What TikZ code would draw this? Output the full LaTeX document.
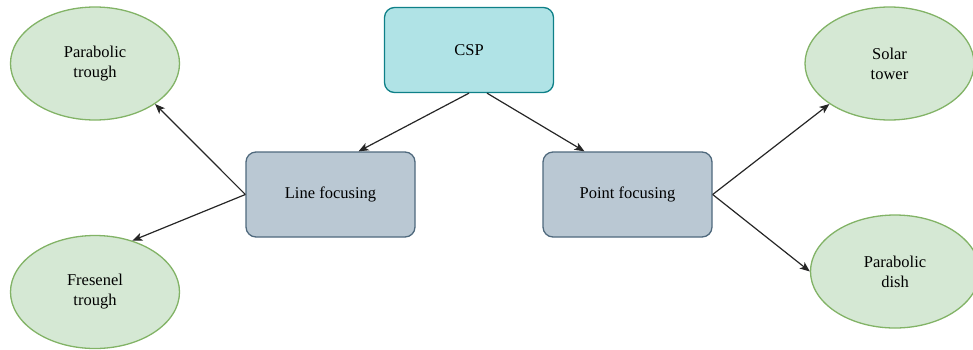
\documentclass[tikz,border=0pt]{standalone}
\usepackage{fontspec}
\setmainfont{Liberation Serif}
\usepackage{tikz}
\usetikzlibrary{arrows.meta,shapes.geometric}

\definecolor{cspfill}{HTML}{B0E3E6}
\definecolor{cspdraw}{HTML}{0E8088}
\definecolor{focusfill}{HTML}{BAC8D3}
\definecolor{focusdraw}{HTML}{23445D}
\definecolor{techfill}{HTML}{D5E8D4}
\definecolor{techdraw}{HTML}{82B366}

\begin{document}
\begin{tikzpicture}[
    x=1pt, y=-1pt,
    >={Stealth[length=10pt, width=8pt, inset=2.5pt]},
    rootbox/.style={draw=cspdraw, fill=cspfill, line width=1.3pt, rounded corners=10pt,
                    minimum width=169pt, minimum height=85pt, align=center,
                    font=\fontsize{16.5}{20}\selectfont},
    focusbox/.style={draw=focusdraw!80, fill=focusfill, line width=1.3pt, rounded corners=10pt,
                     minimum width=169pt, minimum height=85pt, align=center,
                     font=\fontsize{16.5}{20}\selectfont},
    techbox/.style={ellipse, draw=techdraw, fill=techfill, line width=1.3pt,
                    minimum width=169pt, minimum height=113pt, inner sep=0pt, align=center,
                    font=\fontsize{16.5}{20}\selectfont},
    link/.style={->, line width=1.2pt, black!85},
  ]

  \useasboundingbox (0,0) rectangle (973,349);

  % === Root ===
  \node[rootbox] (csp) at (469,50) {CSP};

  % === Focusing types ===
  \node[focusbox] (line) at (330.5,194.5) {Line focusing};
  \node[focusbox] (point) at (627.5,194.5) {Point focusing};

  % === Technologies ===
  \node[techbox] (ptrough) at (95,63.5) {Parabolic\\trough};
  \node[techbox] (ftrough) at (95,292) {Fresenel\\trough};
  \node[techbox] (tower) at (889.5,63.5) {Solar\\tower};
  \node[techbox] (dish) at (895,271.5) {Parabolic\\dish};

  % === Arrows ===
  \draw[link] (csp.south) -- ([xshift=28pt]line.north);
  \draw[link] ([xshift=18pt]csp.south) -- ([xshift=-43pt]point.north);

  \draw[link] (line.west) -- (ptrough.-34);
  \draw[link] (line.west) -- (ftrough.54);

  \draw[link] (point.east) -- (tower.214);
  \draw[link] (point.east) -- (dish.west);

\end{tikzpicture}
\end{document}
